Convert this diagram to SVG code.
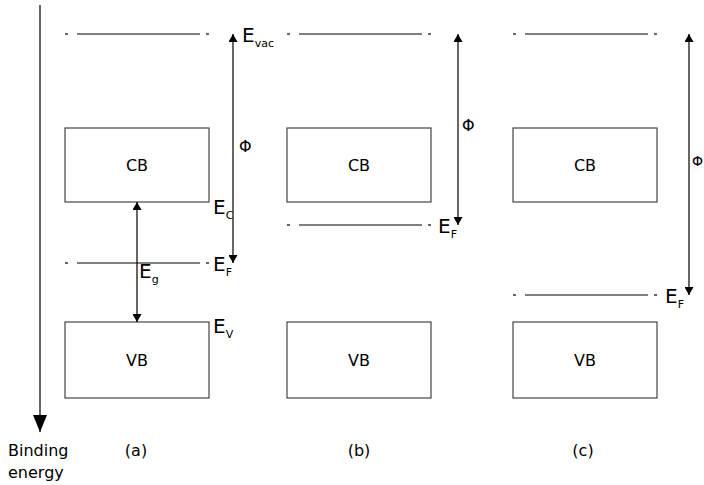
<svg xmlns="http://www.w3.org/2000/svg" width="704" height="485" viewBox="0 0 704 485">
<style>
.box{fill:#fff;stroke:#444;stroke-width:1.2}
.lv{stroke:#000;stroke-width:1.2;fill:none}
.ar{stroke:#000;stroke-width:1.2;fill:none}
text{font-family:"DejaVu Sans",sans-serif;fill:#000}
.t{font-size:16px}
.big{font-size:20px}
.sub{font-size:11px}
.lbl{font-size:16px}
</style>
<defs>
<marker id="ah" viewBox="0 0 10 10" refX="10" refY="5" markerWidth="8" markerHeight="9" markerUnits="userSpaceOnUse" orient="auto-start-reverse" preserveAspectRatio="none">
<path d="M0,0 L10,5 L0,10 Z" fill="#000"/>
</marker>
<marker id="ahb" viewBox="0 0 10 10" refX="10" refY="5" markerWidth="17" markerHeight="14" markerUnits="userSpaceOnUse" orient="auto" preserveAspectRatio="none">
<path d="M0,0 L10,5 L0,10 Z" fill="#000"/>
</marker>
</defs>
<g id="axis">
<line class="ar" x1="40" y1="5" x2="40" y2="432" marker-end="url(#ahb)"/>
<text class="t" x="8" y="456">Binding</text>
<text class="t" x="8" y="478">energy</text>
</g>
<g id="panel-a">
<rect id="cb-a" class="box" x="65" y="128" width="144" height="74"/>
<text class="t" x="137" y="171" text-anchor="middle">CB</text>
<rect id="vb-a" class="box" x="65" y="322" width="144" height="76"/>
<text class="t" x="137" y="366" text-anchor="middle">VB</text>
<g id="evac-a" class="lv"><line x1="65" y1="34" x2="68" y2="34"/><line x1="77" y1="34" x2="200" y2="34"/><line x1="206" y1="34" x2="209" y2="34"/></g>
<g id="ef-a" class="lv"><line x1="65" y1="263" x2="68" y2="263"/><line x1="77" y1="263" x2="200" y2="263"/><line x1="206" y1="263" x2="209" y2="263"/></g>
<text class="big" x="242" y="42">E<tspan class="sub" dy="5">vac</tspan></text>
<text class="big" x="213" y="214">E<tspan class="sub" dy="5">C</tspan></text>
<text class="big" x="213" y="271">E<tspan class="sub" dy="5">F</tspan></text>
<text class="big" x="213" y="333">E<tspan class="sub" dy="5">V</tspan></text>
<text class="big" x="139" y="278">E<tspan class="sub" dy="5">g</tspan></text>
<text class="lbl" x="239" y="152">Φ</text>
</g>
<g id="panel-b">
<rect id="cb-b" class="box" x="287" y="128" width="144" height="74"/>
<text class="t" x="359" y="171" text-anchor="middle">CB</text>
<rect id="vb-b" class="box" x="287" y="322" width="144" height="76"/>
<text class="t" x="359" y="366" text-anchor="middle">VB</text>
<g id="evac-b" class="lv"><line x1="287" y1="34" x2="290" y2="34"/><line x1="299" y1="34" x2="422" y2="34"/><line x1="428" y1="34" x2="431" y2="34"/></g>
<g id="ef-b" class="lv"><line x1="287" y1="225" x2="290" y2="225"/><line x1="299" y1="225" x2="422" y2="225"/><line x1="428" y1="225" x2="431" y2="225"/></g>
<text class="big" x="438" y="233">E<tspan class="sub" dy="5">F</tspan></text>
<text class="lbl" x="462" y="131">Φ</text>
</g>
<g id="panel-c">
<rect id="cb-c" class="box" x="513" y="128" width="144" height="74"/>
<text class="t" x="585" y="171" text-anchor="middle">CB</text>
<rect id="vb-c" class="box" x="513" y="322" width="144" height="76"/>
<text class="t" x="585" y="366" text-anchor="middle">VB</text>
<g id="evac-c" class="lv"><line x1="513" y1="34" x2="516" y2="34"/><line x1="525" y1="34" x2="648" y2="34"/><line x1="654" y1="34" x2="657" y2="34"/></g>
<g id="ef-c" class="lv"><line x1="513" y1="295" x2="516" y2="295"/><line x1="525" y1="295" x2="648" y2="295"/><line x1="654" y1="295" x2="657" y2="295"/></g>
<text class="big" x="665" y="303">E<tspan class="sub" dy="5">F</tspan></text>
<text x="692" y="166" style="font-size:14px">Φ</text>
</g>
<g id="captions">
<text class="t" x="136" y="456" text-anchor="middle">(a)</text>
<text class="t" x="359" y="456" text-anchor="middle">(b)</text>
<text class="t" x="583" y="456" text-anchor="middle">(c)</text>
</g>
<g id="connectors">
<line class="ar" x1="233" y1="34" x2="233" y2="263" marker-start="url(#ah)" marker-end="url(#ah)"/>
<line class="ar" x1="137" y1="202" x2="137" y2="322" marker-start="url(#ah)" marker-end="url(#ah)"/>
<line class="ar" x1="458" y1="34" x2="458" y2="225" marker-start="url(#ah)" marker-end="url(#ah)"/>
<line class="ar" x1="689" y1="34" x2="689" y2="295" marker-start="url(#ah)" marker-end="url(#ah)"/>
</g>
</svg>
